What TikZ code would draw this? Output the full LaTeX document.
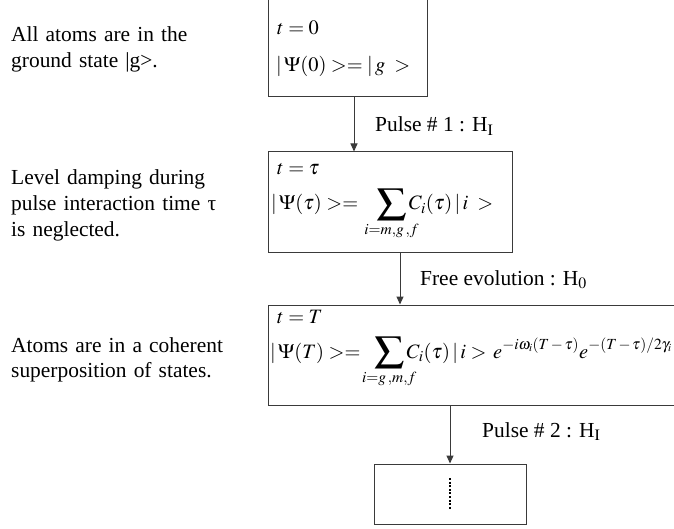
\documentclass[tikz,border=0pt]{standalone}
\usepackage{mathptmx}
\usepackage{mathtools}
\usepackage{fontspec}
\setmainfont{Liberation Serif}
\usetikzlibrary{arrows.meta,positioning}
\DeclareMathSizes{20.5}{20.5}{15.5}{11}
\newcommand{\widesum}{\mathop{\vcenter{\hbox{\scalebox{1.45}[1.25]{$\displaystyle\sum$}}}}\limits}
\definecolor{frame}{HTML}{3A3A3A}
\tikzset{
  statebox/.style={rectangle,draw=frame,line width=1bp,inner sep=0pt},
  eqline/.style={anchor=base west,inner sep=0pt,font=\fontsize{20.5}{26}\selectfont},
  pulse/.style={anchor=base west,inner sep=0pt,font=\fontsize{21.5}{26}\selectfont},
  note/.style={anchor=base west,inner sep=0pt,align=left,text width=250bp,
    font=\fontsize{21.5}{26}\selectfont},
  arrow/.style={-{Triangle[length=8bp,width=7bp]},line width=1bp,draw=frame},
  dots/.style={line width=2.4bp,dash pattern=on 2bp off 1.6bp}
}
\begin{document}
\begin{tikzpicture}[x=1bp,y=-1bp]
\useasboundingbox (0,0) rectangle (674,529);
\clip (0,0) rectangle (674,529);
\node[note] (n1) at (11,42) {All atoms are in the\\ground state |g>.};
\node[note] (n2) at (11,185) {Level damping during\\pulse interaction time τ\\is neglected.};
\node[note] (n3) at (11,352) {Atoms are in a coherent\\superposition of states.};
\node[statebox,minimum width=159bp,minimum height=107bp] (b1) at (347.5,43.5) {};
\node[statebox,minimum width=244bp,minimum height=100bp] (b2) at (390,202) {};
\node[statebox,minimum width=422bp,minimum height=100bp] (b3) at (479,355) {};
\node[statebox,minimum width=152bp,minimum height=60bp] (b4) at (450,494) {};
\node[eqline] (t1) at (277,35) {$t=0$};
\node[eqline] (psi1) at (276,72) {$|\,\Psi(0)>=|\,g\;>$};
\node[eqline] (t2) at (277,175) {$t=\tau$};
\node[eqline] (psi2) at (271,210) {$\displaystyle |\,\Psi(\tau)>=\;\;\;\widesum_{\mathclap{i=m,g\,,f}}C_i(\tau)\,|\,i\;>$};
\node[eqline] (t3) at (277,323) {$t=T$};
\node[eqline] (psi3) at (270,358) {$\displaystyle |\,\Psi(T)>=\;\;\widesum_{\mathclap{i=g\,,m,f}}C_i(\tau)\,|\,i>\,e^{-i\omega_i(T\,-\,\tau)}e^{-(T\,-\,\tau)/2\gamma_i}$};
\coordinate (p1) at (354,0);
\coordinate (p2) at (400,0);
\coordinate (p3) at (450,0);
\draw[arrow] (b1.south -| p1) -- (b2.north -| p1);
\draw[arrow] (b2.south -| p2) -- (b3.north -| p2);
\draw[arrow] (b3.south -| p3) -- (b4.north -| p3);
\node[pulse] (l1) at (375,132) {Pulse \# 1 : H$_\mathrm{I}$};
\node[pulse] (l2) at (420,285) {Free evolution : H$_0$};
\node[pulse] (l3) at (482,437) {Pulse \# 2 : H$_\mathrm{I}$};
\draw[dots] ([yshift=16bp]b4.center) -- ([yshift=-16bp]b4.center);
\end{tikzpicture}
\end{document}
